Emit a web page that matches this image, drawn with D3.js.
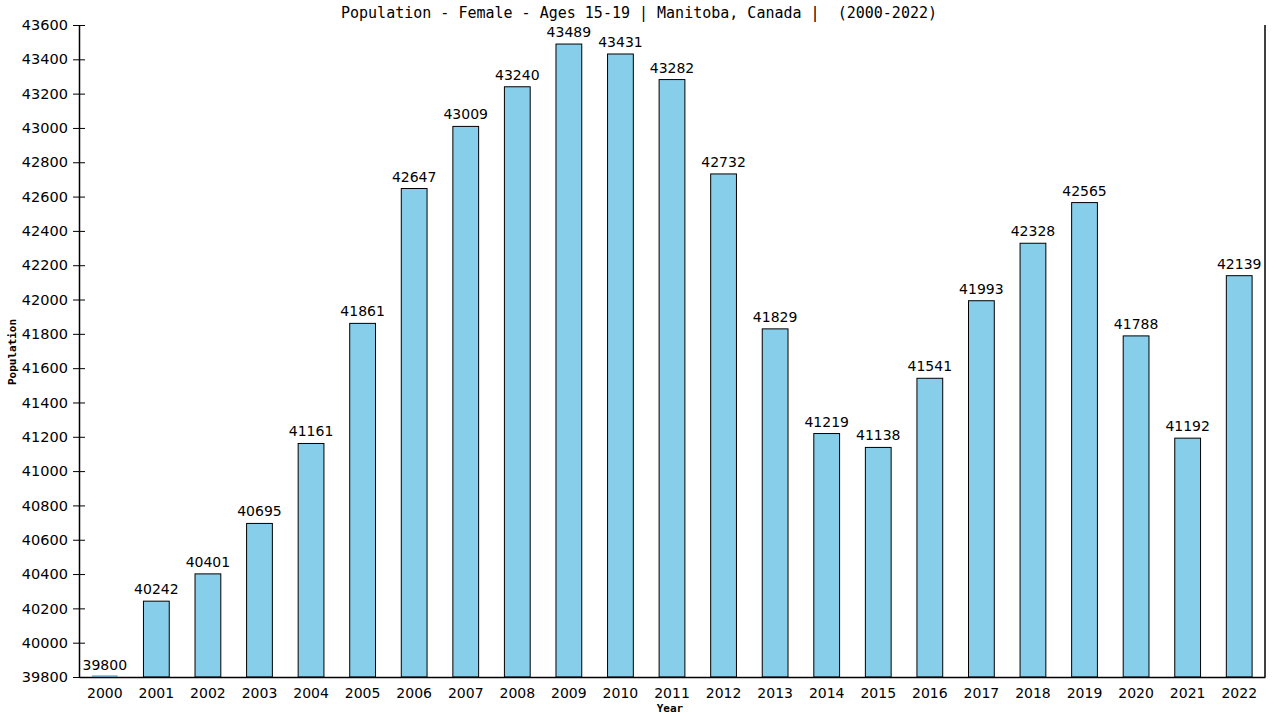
<!DOCTYPE html>
<html>
<head>
<meta charset="utf-8">
<script src="https://cdn.jsdelivr.net/npm/d3@7"></script>
<style>
  body { margin: 0; background: #fff; }
  svg text { fill: #000; }
</style>
</head>
<body>
<script>
let years = [2000, 2001, 2002, 2003, 2004, 2005, 2006, 2007, 2008, 2009, 2010, 2011,
             2012, 2013, 2014, 2015, 2016, 2017, 2018, 2019, 2020, 2021, 2022]
let population = [39800, 40242, 40401, 40695, 41161, 41861, 42647, 43009, 43240, 43489, 43431, 43282,
                  42732, 41829, 41219, 41138, 41541, 41993, 42328, 42565, 41788, 41192, 42139]
let yTicks = d3.range(39800, 43601, 200)

let data = years.map((y, i) => ({ year: y, value: population[i] }))

width = 1280
height = 720
margin = ({ left: 79, right: 15, top: 25, bottom: 43 })

let svg = d3.select('body')
  .append('svg')
  .attr('width', width)
  .attr('height', height)

let x = d3.scaleBand()
  .domain(years)
  .range([margin.left, width - margin.right])
  .paddingInner(0.5)
  .paddingOuter(0.25)

let y = d3.scaleLinear()
  .domain([39800, 43600])
  .range([height - margin.bottom, margin.top])

// bars (the zero-height one still shows as a thin sliver)
svg.selectAll('rect.bar')
  .data(data)
  .join('rect')
    .attr('class', 'bar')
    .attr('x', d => x(d.year))
    .attr('y', d => Math.min(y(d.value), y(39800) - 2))
    .attr('width', x.bandwidth())
    .attr('height', d => Math.max(y(39800) - y(d.value), 2))
    .attr('fill', '#87ceeb')
    .attr('stroke', d => d.value > 39800 ? '#000' : 'none')
    .attr('stroke-width', 1)

// value labels
svg.selectAll('text.val')
  .data(data)
  .join('text')
    .attr('class', 'val')
    .attr('x', d => x(d.year) + x.bandwidth() / 2)
    .attr('y', d => y(d.value) - 7)
    .attr('text-anchor', 'middle')
    .attr('font-family', 'DejaVu Sans')
    .attr('font-size', 14)
    .text(d => d.value)

// y axis
svg.append('g')
  .attr('transform', `translate(${margin.left},0)`)
  .call(d3.axisLeft(y).tickValues(yTicks).tickSize(6).tickSizeOuter(0).tickFormat(d3.format('d')))
  .call(g => g.selectAll('.tick line').attr('x2', -6).attr('x1', 6))
  .call(g => g.selectAll('.tick text').attr('x', -11).attr('font-family', 'DejaVu Sans').attr('font-size', 14.5))
  .call(g => g.select('.domain').attr('stroke-width', 1.5))

// x axis
svg.append('g')
  .attr('transform', `translate(0,${height - margin.bottom})`)
  .call(d3.axisBottom(x).tickSize(0).tickSizeOuter(0))
  .call(g => g.selectAll('.tick text').attr('dy', '1.25em').attr('font-family', 'DejaVu Sans').attr('font-size', 14))
  .call(g => g.select('.domain').attr('stroke-width', 1.5))

// right border
svg.append('line')
  .attr('x1', width - margin.right).attr('x2', width - margin.right)
  .attr('y1', margin.top).attr('y2', height - margin.bottom)
  .attr('stroke', '#000').attr('stroke-width', 1.5)

// title
svg.append('text')
  .attr('x', 639)
  .attr('y', 18)
  .attr('text-anchor', 'middle')
  .attr('font-family', 'DejaVu Sans Mono')
  .attr('font-size', 15)
  .attr('xml:space', 'preserve')
  .text('Population - Female - Ages 15-19 | Manitoba, Canada |  (2000-2022)')

// axis titles
svg.append('text')
  .attr('x', 670)
  .attr('y', 712)
  .attr('text-anchor', 'middle')
  .attr('font-family', 'DejaVu Sans Mono')
  .attr('font-weight', 'bold')
  .attr('font-size', 11)
  .text('Year')

svg.append('text')
  .attr('transform', 'translate(16,352) rotate(-90)')
  .attr('text-anchor', 'middle')
  .attr('font-family', 'DejaVu Sans Mono')
  .attr('font-weight', 'bold')
  .attr('font-size', 11)
  .text('Population')
</script>
</body>
</html>
